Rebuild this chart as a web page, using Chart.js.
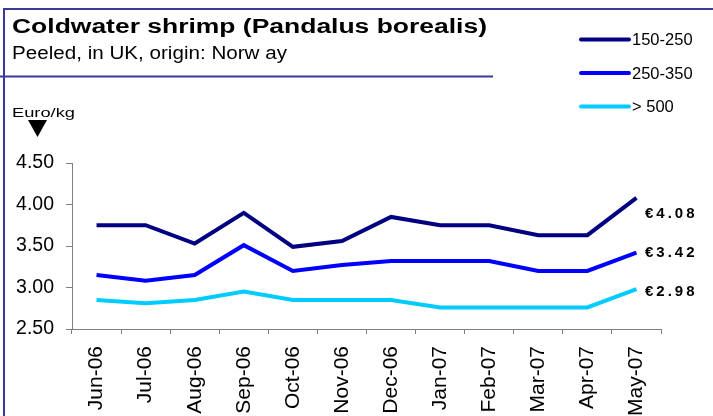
<!DOCTYPE html>
<html>
<head>
<meta charset="utf-8">
<script src="https://cdn.jsdelivr.net/npm/chart.js@4.4.1/dist/chart.umd.min.js"></script>
<style>
html,body{margin:0;padding:0;background:#fff;}
canvas{display:block;}
</style>
</head>
<body>
<canvas id="c" width="713" height="416"></canvas>
<script>
const categories = ["Jun-06","Jul-06","Aug-06","Sep-06","Oct-06","Nov-06","Dec-06","Jan-07","Feb-07","Mar-07","Apr-07","May-07"];
const seriesNames = ["150-250","250-350","> 500"];
const s150_250 = [3.75,3.75,3.53,3.90,3.49,3.56,3.85,3.75,3.75,3.63,3.63,4.08];
const s250_350 = [3.15,3.08,3.15,3.51,3.20,3.27,3.32,3.32,3.32,3.20,3.20,3.42];
const s500 = [2.85,2.81,2.85,2.95,2.85,2.85,2.85,2.76,2.76,2.76,2.76,2.98];
const endLabels = ["€4.08","€3.42","€2.98"];
const yTicks = [2.5,3.0,3.5,4.0,4.5];
const titleText = "Coldwater shrimp (Pandalus borealis)";
const subtitleText = "Peeled, in UK, origin: Norw ay";
const unitText = "Euro/kg";

const colors = ["#000080","#0000ff","#00ccff"];
const FONT = "'Liberation Sans', Arial, sans-serif";
const frameColor = "#3a3a99";

function stretchText(ctx, text, x, y, targetW) {
  const w = ctx.measureText(text).width;
  ctx.save();
  ctx.translate(x, y);
  ctx.scale(targetW / w, 1);
  ctx.fillText(text, 0, 0);
  ctx.restore();
}

const decorPlugin = {
  id: 'decor',
  afterDraw(chart) {
    const ctx = chart.ctx;
    ctx.save();
    // frame
    ctx.strokeStyle = frameColor;
    ctx.lineWidth = 2;
    ctx.beginPath();
    ctx.moveTo(3, 9); ctx.lineTo(713, 9);
    ctx.moveTo(4, 9); ctx.lineTo(4, 416);
    ctx.moveTo(0, 76.5); ctx.lineTo(493, 76.5);
    ctx.stroke();
    // titles
    ctx.fillStyle = "#000";
    ctx.textBaseline = "alphabetic";
    ctx.textAlign = "left";
    ctx.font = "bold 20px " + FONT;
    stretchText(ctx, titleText, 12, 33, 475);
    ctx.font = "17.5px " + FONT;
    stretchText(ctx, subtitleText, 12, 59, 275);
    ctx.font = "13.5px " + FONT;
    stretchText(ctx, unitText, 12, 116.5, 63);
    // triangle
    ctx.beginPath();
    ctx.moveTo(28, 120); ctx.lineTo(47, 120); ctx.lineTo(37.5, 137); ctx.closePath();
    ctx.fill();
    // legend
    const ly = [39.5, 73, 106.5];
    chart.data.datasets.forEach((ds, i) => {
      ctx.strokeStyle = ds.borderColor;
      ctx.lineWidth = 4;
      ctx.lineCap = "round";
      ctx.beginPath();
      ctx.moveTo(581, ly[i]); ctx.lineTo(629, ly[i]);
      ctx.stroke();
      ctx.fillStyle = "#000";
      ctx.font = "16.5px " + FONT;
      ctx.textBaseline = "middle";
      ctx.fillText(ds.label, 632, ly[i] + 1);
    });
    // end labels
    const yScale = chart.scales.y;
    const offs = [16, 0, 3];
    ctx.font = "bold 15px " + FONT;
    ctx.letterSpacing = "3px";
    ctx.textBaseline = "middle";
    chart.data.datasets.forEach((ds, i) => {
      const v = ds.data[ds.data.length - 1];
      ctx.fillText(endLabels[i], 645, yScale.getPixelForValue(v) + offs[i]);
    });
    ctx.restore();
  }
};

new Chart(document.getElementById('c'), {
  type: 'line',
  data: {
    labels: categories,
    datasets: [
      {label: seriesNames[0], data: s150_250, borderColor: colors[0], backgroundColor: colors[0], borderWidth: 4, pointRadius: 0, tension: 0},
      {label: seriesNames[1], data: s250_350, borderColor: colors[1], backgroundColor: colors[1], borderWidth: 4, pointRadius: 0, tension: 0},
      {label: seriesNames[2], data: s500, borderColor: colors[2], backgroundColor: colors[2], borderWidth: 4, pointRadius: 0, tension: 0}
    ]
  },
  options: {
    responsive: false,
    animation: false,
    devicePixelRatio: 1,
    layout: {padding: {top: 163, right: 52, bottom: 0, left: 0}},
    plugins: {legend: {display: false}, tooltip: {enabled: false}},
    scales: {
      x: {
        offset: true,
        grid: {offset: true, drawOnChartArea: false, tickLength: 5, color: '#808080'},
        border: {color: '#808080', width: 1},
        ticks: {minRotation: 90, maxRotation: 90, padding: 12, color: '#000', font: {family: FONT, size: 21}},
        afterFit(s) { s.height = 87; }
      },
      y: {
        min: 2.5, max: 4.5,
        afterBuildTicks(s) { s.ticks = yTicks.map(v => ({value: v})); },
        grid: {drawOnChartArea: false, tickLength: 6, color: '#808080'},
        border: {color: '#808080', width: 1},
        ticks: {padding: 12, color: '#000', font: {family: FONT, size: 19.5}, callback: v => Number(v).toFixed(2)},
        afterFit(s) { s.width = 72; }
      }
    }
  },
  plugins: [decorPlugin]
});
</script>
</body>
</html>
